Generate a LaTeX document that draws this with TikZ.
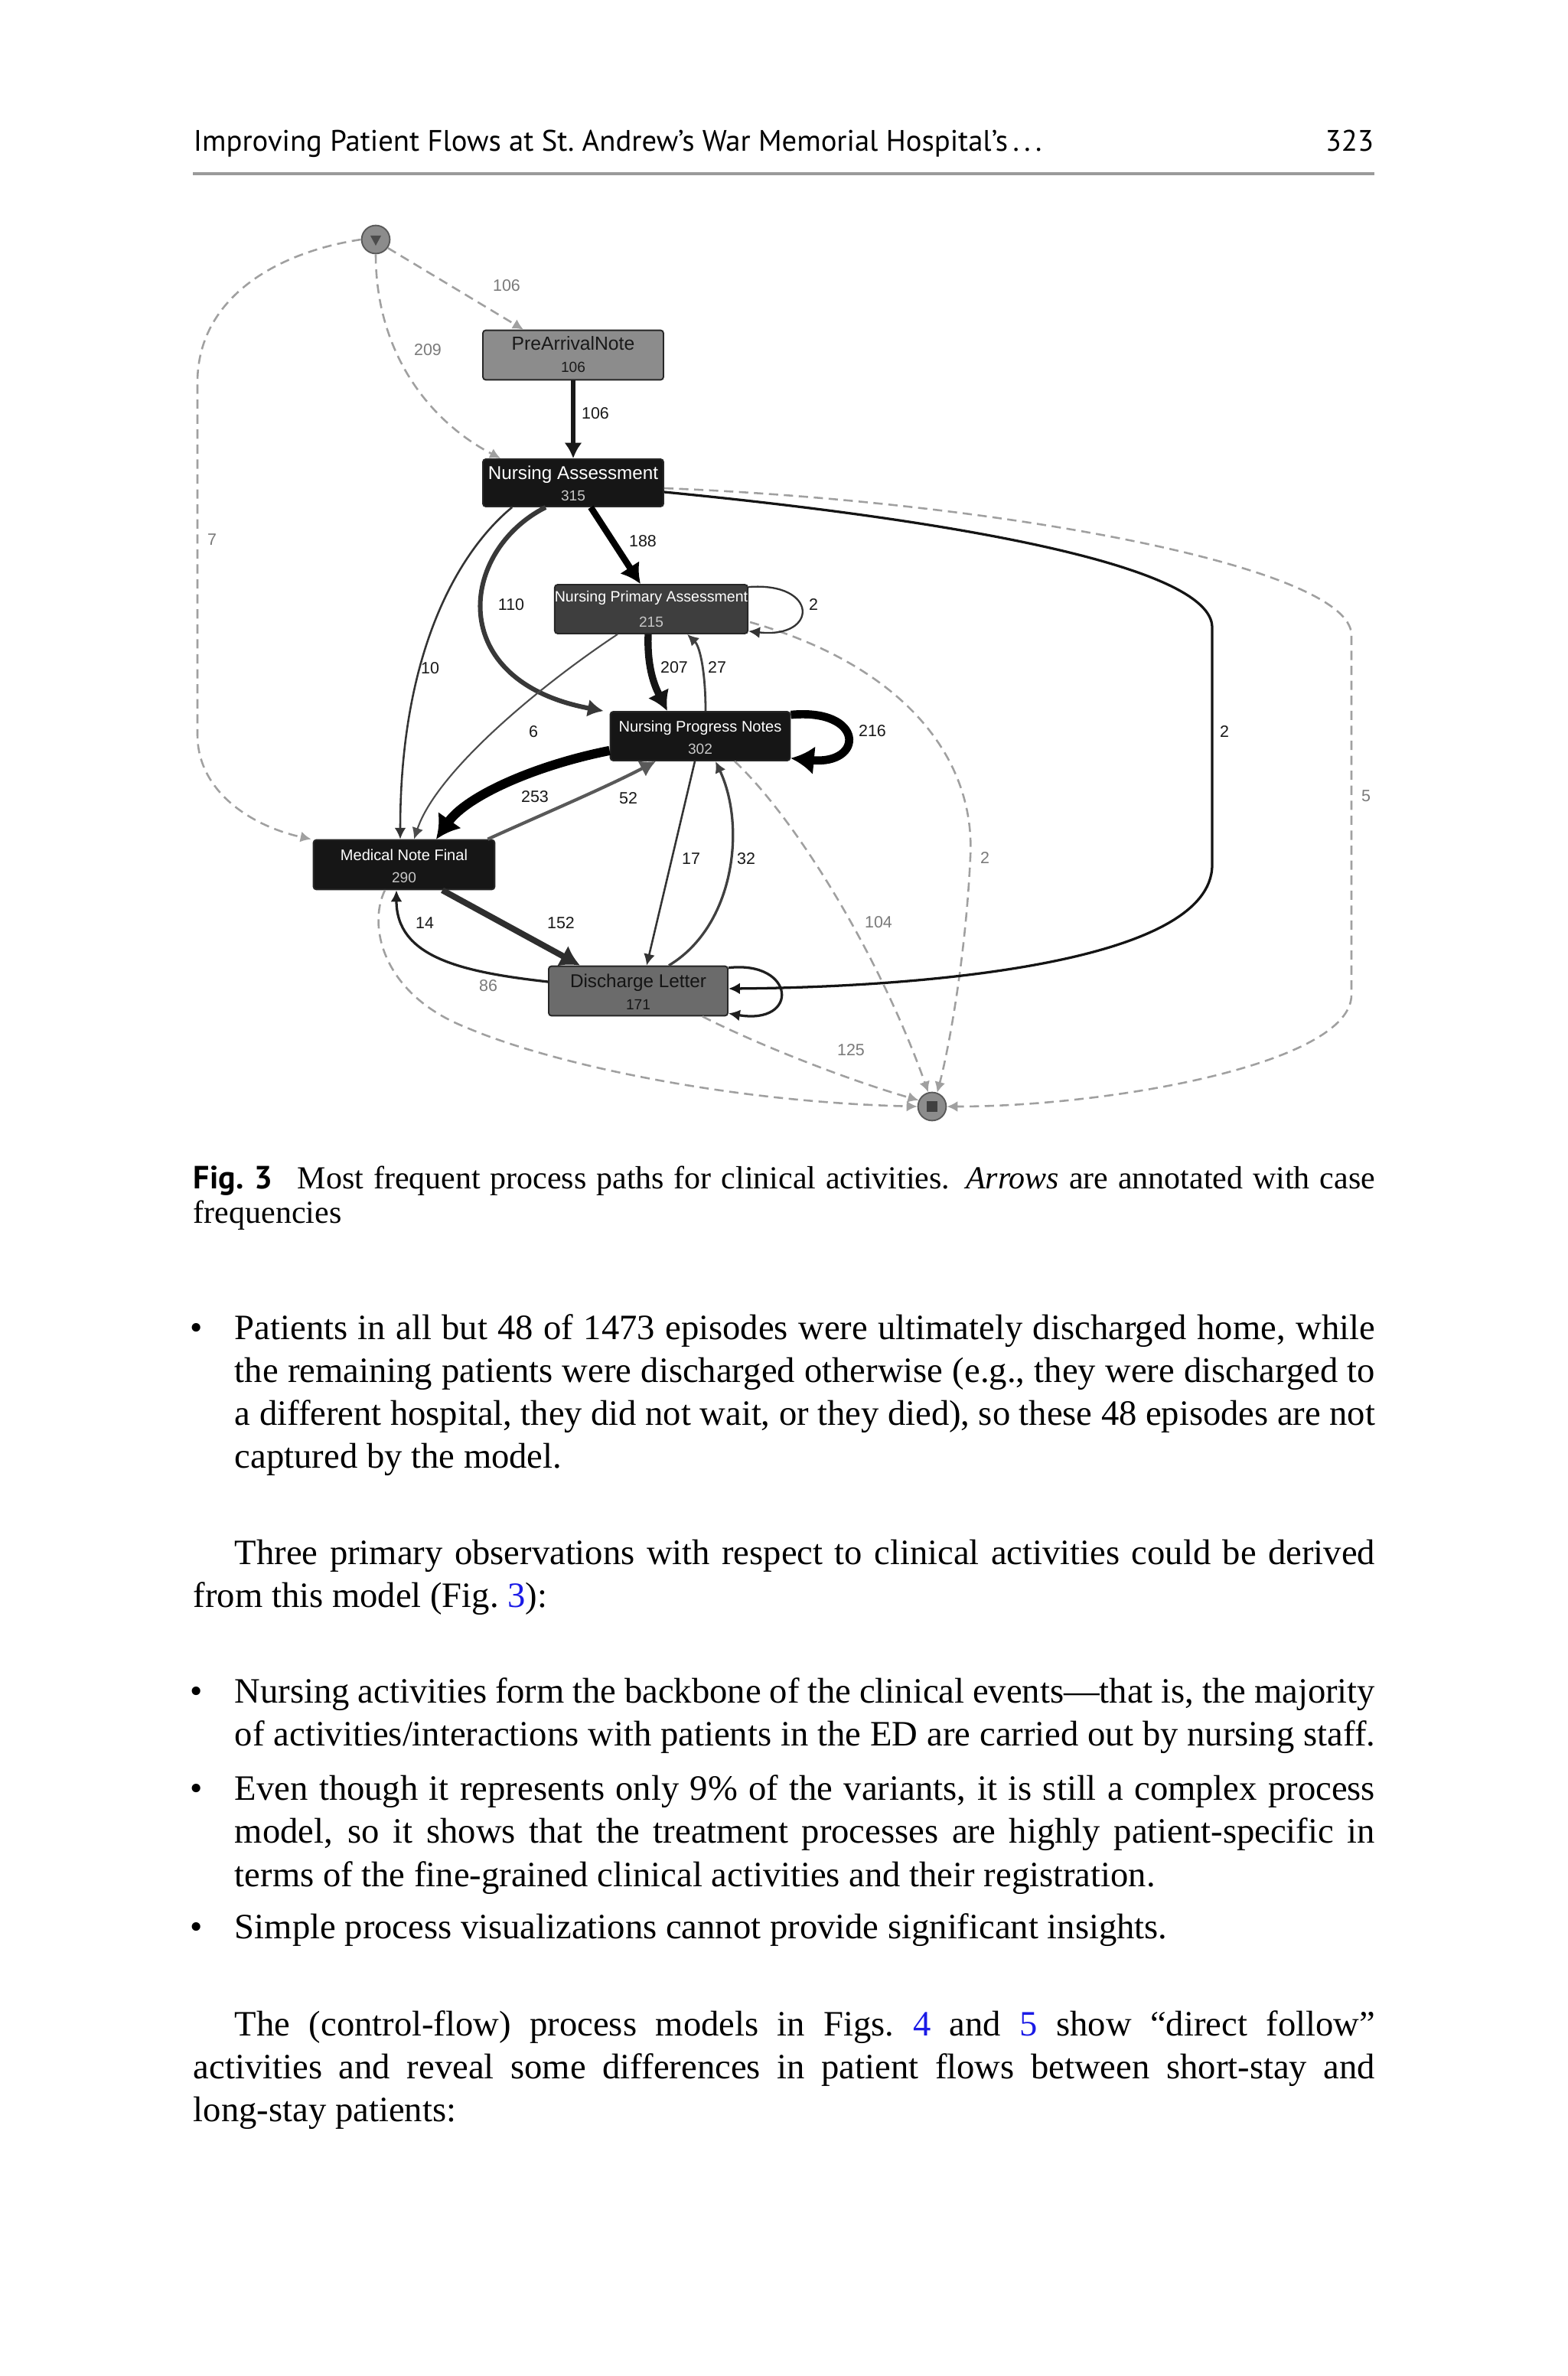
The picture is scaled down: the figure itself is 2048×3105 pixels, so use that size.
\documentclass[tikz,border=0pt]{standalone}
\usepackage{fontspec}
\setmainfont{Liberation Serif}
\newfontfamily\hdrfont{PT Sans}
\newfontfamily\dgfont{Liberation Sans}
\usetikzlibrary{arrows.meta,calc}
\definecolor{dashc}{HTML}{A0A0A0}
\definecolor{dlabc}{HTML}{7A7A7A}
\definecolor{rulec}{HTML}{9A9A9A}
\definecolor{panf}{HTML}{8C8C8C}
\definecolor{blkf}{HTML}{161616}
\definecolor{npaf}{HTML}{3E3E3E}
\definecolor{dlf}{HTML}{6B6B6B}
\definecolor{cntw}{HTML}{C8C8C8}
\definecolor{linkblue}{HTML}{1A1AE6}
\newlength\fullw \setlength\fullw{331.2pt}
\newlength\bulw \setlength\bulw{319.6pt}
\newcommand\jl[2]{\makebox[#1][s]{#2}}
\begin{document}
\begin{tikzpicture}[x=0.2145pt,y=-0.2145pt,
  bodyt/.style={anchor=base west, inner sep=0, font=\fontsize{10}{12}\selectfont},
  bult/.style={anchor=base, inner sep=0, font=\fontsize{10}{12}\selectfont},
  capt/.style={anchor=base west, inner sep=0, font=\fontsize{9}{10}\selectfont},
  box/.style={draw=black!85, line width=0.4pt, rounded corners=0.8pt, inner sep=0},
  nm/.style={anchor=base, inner sep=0},
  ct/.style={anchor=base, inner sep=0, font=\dgfont\fontsize{4.1}{5}\selectfont},
  lab/.style={inner sep=0, text=black!90, font=\dgfont\fontsize{4.6}{5}\selectfont},
  dlab/.style={inner sep=0, text=dlabc, font=\dgfont\fontsize{4.6}{5}\selectfont},
  circ/.style={circle, draw=black!65, line width=0.4pt, fill=panf, minimum size=7.9pt, inner sep=0},
  ea/.style={-{Latex[length=3.2pt,width=3.2pt]}},
  eb/.style={-{Latex[length=4.4pt,width=5pt]}},
  ec/.style={-{Latex[length=5.5pt,width=6.5pt]}},
  ed/.style={-{Latex[length=6.5pt,width=8pt]}},
  dsh/.style={draw=dashc, line width=0.55pt, dash pattern=on 2.6pt off 1.6pt, -{Latex[length=3pt,width=3pt]}}
]
\useasboundingbox (0,0) rectangle (2048,3105);
\fill[white] (0,0) rectangle (2048,3105);

% ---------- header ----------
\node[anchor=base west, inner sep=0, font=\hdrfont\fontsize{8.3}{10}\selectfont] (hdr) at (252,198) {Improving Patient Flows at St.\ Andrew’s War Memorial Hospital’s\,.\,.\,.};
\node[anchor=base east, inner sep=0, font=\hdrfont\fontsize{8.3}{10}\selectfont] (pg) at (1796,198) {323};
\draw[rulec, line width=1pt] (252,227) -- (1796,227);

% ---------- diagram nodes ----------
\node[circ] (st) at (491,313) {};
\fill[black!70] ($(st.center)+(-7,-5)$) -- ($(st.center)+(7,-5)$) -- ($(st.center)+(0,8)$) -- cycle;
\node[circ] (en) at (1218,1446) {};
\fill[black!75] ($(en.center)+(-7,-7)$) rectangle ($(en.center)+(7,7)$);

\node[box, fill=panf, minimum width=50.6pt, minimum height=13.9pt] (pan) at (749,464) {};
\node[box, fill=blkf, minimum width=50.6pt, minimum height=13.3pt] (na) at (749,631) {};
\node[box, fill=npaf, minimum width=54.1pt, minimum height=13.7pt] (npa) at (851,796) {};
\node[box, fill=blkf, minimum width=50.4pt, minimum height=13.7pt] (npn) at (915,962) {};
\node[box, fill=blkf, minimum width=50.8pt, minimum height=13.9pt] (mnf) at (528,1130) {};
\node[box, fill=dlf, minimum width=50.2pt, minimum height=13.9pt] (dl) at (834,1295) {};

\node[nm, text=black!90, font=\dgfont\fontsize{5.3}{6}\selectfont] (pant) at ($(pan.north)+(0,27)$) {PreArrivalNote};
\node[ct, text=black!90] (panc) at ($(pan.north)+(0,56)$) {106};
\node[nm, text=white, font=\dgfont\fontsize{5.2}{6}\selectfont] (nat) at ($(na.north)+(0,27)$) {Nursing Assessment};
\node[ct, text=cntw] (nac) at ($(na.north)+(0,55)$) {315};
\node[nm, text=white, font=\dgfont\fontsize{4.2}{5}\selectfont] (npat) at ($(npa.north)+(0,23)$) {Nursing Primary Assessment};
\node[ct, text=cntw] (npac) at ($(npa.north)+(0,56)$) {215};
\node[nm, text=white, font=\dgfont\fontsize{4.3}{5}\selectfont] (npnt) at ($(npn.north)+(0,27)$) {Nursing Progress Notes};
\node[ct, text=cntw] (npnc) at ($(npn.north)+(0,56)$) {302};
\node[nm, text=white, font=\dgfont\fontsize{4.3}{5}\selectfont] (mnft) at ($(mnf.north)+(0,28)$) {Medical Note Final};
\node[ct, text=cntw] (mnfc) at ($(mnf.north)+(0,57)$) {290};
\node[nm, text=black!92, font=\dgfont\fontsize{5.2}{6}\selectfont] (dlt) at ($(dl.north)+(0,28.5)$) {Discharge Letter};
\node[ct, text=black!92] (dlc) at ($(dl.north)+(0,58)$) {171};

% ---------- dashed edges from start / to end ----------
\draw[dsh] (st.-35) -- ($(pan.north)+(-65,0)$);
\node[dlab] (l01) at (662,373) {106};
\draw[dsh] (st.south) .. controls (491,460) and (560,550) .. ($(na.north west)+(24,0)$);
\node[dlab] (l02) at (559,457) {209};
\draw[dsh] (st.west) .. controls (360,330) and (258,390) .. (258,500) -- (258,960) .. controls (258,1035) and (330,1080) .. ($(mnf.north west)+(-2,0)$);
\node[dlab] (l03) at (277,705) {7};

\draw[dsh] ($(na.east)+(0,7)$) .. controls (1300,655) and (1766,740) .. (1766,830) -- (1766,1300) .. controls (1766,1390) and (1450,1446) .. (en.east);
\node[dlab] (l04) at (1785,1040) {5};
\draw[dsh] ($(npa.east)+(2,17)$) .. controls (1180,870) and (1275,990) .. (1268,1120) .. controls (1262,1250) and (1240,1370) .. (en.70);
\node[dlab] (l05) at (1287,1121) {2};
\draw[dsh] ($(npn.south)+(45,0)$) .. controls (1040,1070) and (1150,1250) .. (en.105);
\node[dlab] (l06) at (1148,1205) {104};
\draw[dsh] ($(dl.south east)+(-34,0)$) .. controls (1000,1370) and (1120,1415) .. (en.155);
\node[dlab] (l07) at (1112,1372) {125};
\draw[dsh] ($(mnf.south)+(-25,0)$) .. controls (480,1210) and (500,1300) .. (610,1343) .. controls (720,1390) and (950,1440) .. (en.west);
\node[dlab] (l08) at (638,1288) {86};

% ---------- solid edges ----------
\draw[eb, draw=black!90, line width=1.3pt] (pan.south) -- (na.north);
\node[lab] (l09) at (778,540) {106};
\draw[ec, draw=black, line width=1.8pt] ($(na.south)+(23,0)$) -- ($(npa.north)+(-14,0)$);
\node[lab] (l10) at (840,707) {188};
\draw[eb, draw=black!78, line width=1.3pt] ($(na.south)+(-36,0)$) .. controls (600,720) and (580,890) .. ($(npn.north west)+(-8,0)$);
\node[lab] (l11) at (668,790) {110};
\draw[ea, draw=black!80, line width=0.55pt] ($(na.south west)+(39,0)$) .. controls (600,720) and (523,850) .. ($(mnf.north)+(-5,0)$);
\node[lab] (l12) at (562,873) {10};
\draw[ec, draw=black!92, line width=2pt] ($(npa.south)+(-4,0)$) .. controls (845,880) and (860,905) .. ($(npn.north)+(-43,0)$);
\node[lab] (l13) at (881,872) {207};
\draw[ea, draw=black!75, line width=0.6pt] ($(npn.north)+(7,0)$) .. controls (922,880) and (915,845) .. ($(npa.south)+(47,0)$);
\node[lab] (l14) at (937,872) {27};
\draw[ea, draw=black!80, line width=0.5pt] ($(npa.north east)+(0,4)$) .. controls (1070,760) and (1070,835) .. ($(npa.south east)+(0,-4)$);
\node[lab] (l15) at (1063,790) {2};
\draw[ed, draw=black, line width=2.3pt] ($(npn.north east)+(0,5)$) .. controls (1130,925) and (1130,1000) .. ($(npn.south east)+(0,-4)$);
\node[lab] (l16) at (1140,955) {216};
\draw[ea, draw=black!70, line width=0.45pt] ($(npa.south west)+(83,0)$) .. controls (700,900) and (570,1010) .. ($(mnf.north)+(13,0)$);
\node[lab] (l17) at (697,956) {6};
\draw[ed, draw=black, line width=2.6pt] ($(npn.south west)+(0,-14)$) .. controls (700,1000) and (610,1040) .. ($(mnf.north)+(42,0)$);
\node[lab] (l18) at (699,1041) {253};
\draw[eb, draw=black!65, line width=0.9pt] ($(mnf.north east)+(-10,0)$) .. controls (700,1068) and (790,1030) .. ($(npn.south)+(-58,0)$);
\node[lab] (l19) at (821,1043) {52};
\draw[ec, draw=black!82, line width=1.7pt] ($(mnf.south)+(50,0)$) -- ($(dl.north)+(-76,0)$);
\node[lab] (l20) at (733,1206) {152};
\draw[ea, draw=black!88, line width=0.7pt] ($(dl.west)+(0,-12)$) .. controls (600,1270) and (518,1250) .. ($(mnf.south)+(-10,0)$);
\node[lab] (l21) at (555,1206) {14};
\draw[ea, draw=black!80, line width=0.55pt] ($(npn.south)+(-7,0)$) -- ($(dl.north)+(11,0)$);
\node[lab] (l22) at (903,1122) {17};
\draw[ea, draw=black!75, line width=0.7pt] ($(dl.north)+(40,0)$) .. controls (960,1210) and (975,1080) .. ($(npn.south)+(20,0)$);
\node[lab] (l23) at (975,1122) {32};
\draw[ea, draw=black!88, line width=0.7pt] ($(dl.north east)+(0,3)$) .. controls (1040,1255) and (1045,1340) .. ($(dl.south east)+(0,-4)$);
\draw[ea, draw=black!92, line width=0.7pt] ($(na.east)+(0,12)$) .. controls (1250,680) and (1584,740) .. (1584,820) -- (1584,1130) .. controls (1584,1260) and (1200,1290) .. ($(dl.east)+(0,-3)$);
\node[lab] (l24) at (1600,956) {2};

% ---------- caption ----------
\node[anchor=base west, inner sep=0, font=\hdrfont\bfseries\fontsize{9}{10}\selectfont] (capf) at (252,1553) {Fig. 3};
\node[capt] (cap1) at (388,1553) {\jl{302pt}{Most frequent process paths for clinical activities. \textit{Arrows} are annotated with case}};
\node[capt] (cap2) at (252,1598) {frequencies};

% ---------- body text ----------
\node[bult] (bu1) at (257,1750) {•};
\node[bodyt] (t01) at (306,1750) {\jl{\bulw}{Patients in all but 48 of 1473 episodes were ultimately discharged home, while}};
\node[bodyt] (t02) at (306,1806) {\jl{\bulw}{the remaining patients were discharged otherwise (e.g., they were discharged to}};
\node[bodyt] (t03) at (306,1862) {\jl{\bulw}{a different hospital, they did not wait, or they died), so these 48 episodes are not}};
\node[bodyt] (t04) at (306,1918) {captured by the model.};

\node[bodyt] (t05) at (306,2044) {\jl{\bulw}{Three primary observations with respect to clinical activities could be derived}};
\node[bodyt] (t06) at (252,2100) {from this model (Fig.~\textcolor{linkblue}{3}):};

\node[bult] (bu2) at (257,2225) {•};
\node[bodyt] (t07) at (306,2225) {\jl{\bulw}{Nursing activities form the backbone of the clinical events—that is, the majority}};
\node[bodyt] (t08) at (306,2281) {\jl{\bulw}{of activities/interactions with patients in the ED are carried out by nursing staff.}};
\node[bult] (bu3) at (257,2352) {•};
\node[bodyt] (t09) at (306,2352) {\jl{\bulw}{Even though it represents only 9\% of the variants, it is still a complex process}};
\node[bodyt] (t10) at (306,2408) {\jl{\bulw}{model, so it shows that the treatment processes are highly patient-specific in}};
\node[bodyt] (t11) at (306,2465) {terms of the fine-grained clinical activities and their registration.};
\node[bult] (bu4) at (257,2533) {•};
\node[bodyt] (t12) at (306,2533) {Simple process visualizations cannot provide significant insights.};

\node[bodyt] (t13) at (306,2660) {\jl{\bulw}{The (control-flow) process models in Figs.~\textcolor{linkblue}{4} and \textcolor{linkblue}{5} show “direct follow”}};
\node[bodyt] (t14) at (252,2716) {\jl{\fullw}{activities and reveal some differences in patient flows between short-stay and}};
\node[bodyt] (t15) at (252,2772) {long-stay patients:};
\end{tikzpicture}
\end{document}
